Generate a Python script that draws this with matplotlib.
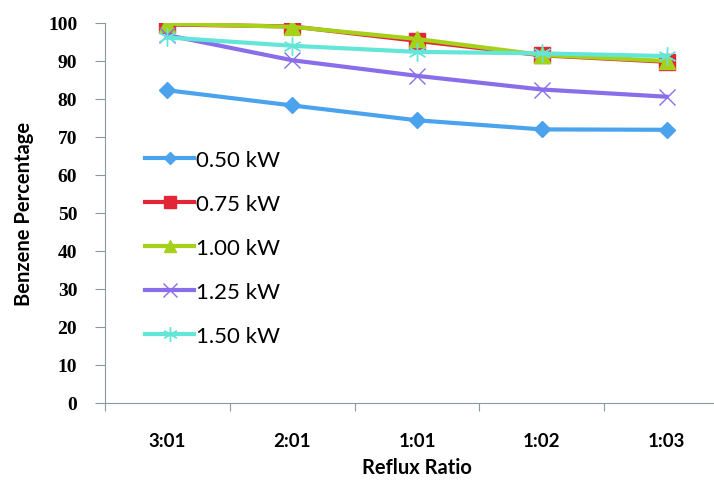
import matplotlib
matplotlib.use('Agg')
import matplotlib.pyplot as plt

# data
ratios = ["3:01", "2:01", "1:01", "1:02", "1:03"]
p050 = [82.3, 78.3, 74.4, 72.0, 71.9]
p075 = [99.6, 99.1, 95.3, 91.5, 89.8]
p100 = [99.8, 99.0, 95.8, 91.6, 90.0]
p125 = [96.8, 90.2, 86.1, 82.5, 80.6]
p150 = [96.2, 94.0, 92.4, 92.0, 91.3]
labels = ["0.50 kW", "0.75 kW", "1.00 kW", "1.25 kW", "1.50 kW"]

plt.rcParams['font.family'] = ['Lato', 'DejaVu Sans']

fig = plt.figure(figsize=(7.14, 4.81), dpi=100)
ax = fig.add_axes([105 / 714, 77 / 481, 624 / 714, 380 / 481])

x = range(len(ratios))
styles = [
    (p050, '#4aa3ec', 'D', 8),
    (p075, '#e32636', 's', 11),
    (p100, '#a6d11a', '^', 11),
    (p125, '#8a6de9', 'x', 12),
    (p150, '#63e5d8', (6, 2, 0), 13),
]
for (vals, col, mk, ms), lab in zip(styles, labels):
    ax.plot(x, vals, color=col, lw=3, marker=mk, ms=ms, mew=1,
            mec=col, mfc=col, label=lab)

ax.set_xlim(-0.5, 4.5)
ax.set_ylim(0, 100)
ax.set_yticks(range(0, 101, 10))
ax.set_xticks([i - 0.5 for i in range(6)])
ax.set_xticklabels([])
ax.set_xticks(list(x), minor=True)
ax.set_xticklabels(ratios, minor=True)
ax.tick_params(axis='x', which='major', length=6, color='#8a98a2')
ax.tick_params(axis='x', which='minor', length=0, pad=21, labelsize=13.5)
ax.tick_params(axis='y', length=7, color='#8a98a2', labelsize=14, pad=13)
for t in ax.get_xticklabels(minor=True):
    t.set_fontweight('bold')
for t in ax.get_yticklabels():
    t.set_fontweight('bold')
    t.set_family('Liberation Serif')

for s in ['top', 'right']:
    ax.spines[s].set_visible(False)
for s in ['left', 'bottom']:
    ax.spines[s].set_color('#8a98a2')

ax.set_xlabel("Reflux Ratio", fontsize=14.5, fontweight='bold', labelpad=6)
ax.set_ylabel("Benzene Percentage", fontsize=14.5, fontweight='bold', labelpad=10)

ax.legend(loc='upper left', bbox_to_anchor=(0.05, 0.69), frameon=False,
          fontsize=16, handlelength=2.2, labelspacing=1.08, handletextpad=0.1,
          borderaxespad=0, markerscale=0.8)

fig.savefig("out.png", dpi=100)
